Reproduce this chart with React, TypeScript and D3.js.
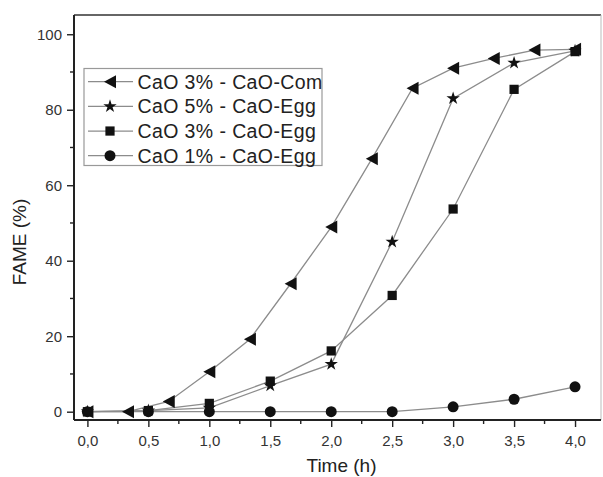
import React, { useEffect, useRef } from "react";
import * as d3 from "d3";

// data
const comTimes = [0, 0.333, 0.667, 1.0, 1.333, 1.667, 2.0, 2.333, 2.667, 3.0, 3.333, 3.667, 4.0];
const comFame = [0, 0, 2.7, 10.6, 19.2, 33.9, 48.9, 67, 85.7, 91, 93.6, 95.8, 96];
const eggTimes = [0, 0.5, 1.0, 1.5, 2.0, 2.5, 3.0, 3.5, 4.0];
const egg5Fame = [0, 0.3, 1.0, 6.9, 12.6, 45, 83, 92.4, 95.6];
const egg3Fame = [0, 0.3, 2.2, 8.1, 16.1, 30.8, 53.7, 85.4, 95.4];
const egg1Fame = [0, 0, 0, 0, 0, 0, 1.3, 3.3, 6.6];

const seriesNames = ["CaO 3% - CaO-Com", "CaO 5% - CaO-Egg", "CaO 3% - CaO-Egg", "CaO 1% - CaO-Egg"];
const seriesShapes = ["triangle", "star", "square", "circle"];

const xTicks = [0, 0.5, 1, 1.5, 2, 2.5, 3, 3.5, 4];
const xMinorTicks = [0.25, 0.75, 1.25, 1.75, 2.25, 2.75, 3.25, 3.75, 4.25];
const yTicks = [0, 20, 40, 60, 80, 100];
const yMinorTicks = [10, 30, 50, 70, 90];

const FONT = "'Liberation Sans', Arial, sans-serif";

const App = () => {
  const svgRef = useRef(null);

  useEffect(() => {
    const width = 603;
    const height = 477;
    const left = 74;
    const right = 601;
    const top = 15;
    const bottom = 420;

    const x = d3.scaleLinear().domain([-0.11, 4.213]).range([left, right]);
    const y = d3.scaleLinear().domain([-2.2, 105.1]).range([bottom, top]);

    const svg = d3.select(svgRef.current).attr("viewBox", [0, 0, width, height]);
    svg.selectAll("*").remove();

    svg.append("rect").attr("width", width).attr("height", height).attr("fill", "#fff");

    // frame: top and right
    svg.append("line").attr("x1", left).attr("x2", right).attr("y1", top).attr("y2", top)
      .attr("stroke", "#333").attr("stroke-width", 1.6);
    svg.append("line").attr("x1", right).attr("x2", right).attr("y1", top).attr("y2", bottom)
      .attr("stroke", "#bbb").attr("stroke-width", 1);

    const fmt = (d) => d3.format(".1f")(d).replace(".", ",");

    const gx = svg.append("g").attr("transform", `translate(0,${bottom})`);
    gx.call(d3.axisBottom(x).tickValues(xTicks).tickFormat(fmt).tickSize(7).tickPadding(8));
    gx.append("g").selectAll("line").data(xMinorTicks).join("line")
      .attr("x1", (d) => x(d)).attr("x2", (d) => x(d)).attr("y1", 0).attr("y2", 4)
      .attr("stroke", "#222").attr("stroke-width", 1.4);

    const gy = svg.append("g").attr("transform", `translate(${left},0)`);
    gy.call(d3.axisLeft(y).tickValues(yTicks).tickSize(7).tickPadding(5));
    gy.append("g").selectAll("line").data(yMinorTicks).join("line")
      .attr("x1", 0).attr("x2", -4).attr("y1", (d) => y(d)).attr("y2", (d) => y(d))
      .attr("stroke", "#222").attr("stroke-width", 1.4);

    [gx, gy].forEach((g) => {
      g.select(".domain").attr("stroke", "#222").attr("stroke-width", 2);
      g.selectAll(".tick line").attr("stroke", "#222").attr("stroke-width", 1.4);
      g.selectAll(".tick text").attr("font-family", FONT).attr("font-size", 15).attr("fill", "#333");
    });
    gx.select(".domain").attr("d", `M${left},0H${right}`);
    gy.select(".domain").attr("d", `M0,${bottom}V${top}`);

    svg.append("text").attr("x", (left + right) / 2 + 4).attr("y", 472)
      .attr("text-anchor", "middle").attr("font-family", FONT).attr("font-size", 19)
      .attr("fill", "#222").text("Time (h)");
    svg.append("text").attr("transform", "translate(26,242) rotate(-90)")
      .attr("text-anchor", "middle").attr("font-family", FONT).attr("font-size", 19)
      .attr("fill", "#222").text("FAME (%)");

    const series = [
      { t: comTimes, v: comFame },
      { t: eggTimes, v: egg5Fame },
      { t: eggTimes, v: egg3Fame },
      { t: eggTimes, v: egg1Fame },
    ];

    const symbolFor = (shape) => {
      if (shape === "triangle") return "M-6,0L6,-6.5L6,6.5Z";
      if (shape === "star") return d3.symbol(d3.symbolStar, 55)();
      if (shape === "square") return d3.symbol(d3.symbolSquare, 85)();
      return d3.symbol(d3.symbolCircle, 95)();
    };

    const line = d3.line().x((d) => x(d[0])).y((d) => y(d[1]));

    series.forEach((s) => {
      const pts = s.t.map((t, i) => [t, s.v[i]]);
      svg.append("path").attr("d", line(pts)).attr("fill", "none")
        .attr("stroke", "#8c8c8c").attr("stroke-width", 1.3);
    });

    // draw markers from bottom series up so the triangles sit on top
    [3, 2, 1, 0].forEach((k) => {
      const s = series[k];
      svg.append("g").selectAll("path").data(s.t.map((t, i) => [t, s.v[i]])).join("path")
        .attr("transform", (d) => `translate(${x(d[0])},${y(d[1])})`)
        .attr("d", symbolFor(seriesShapes[k])).attr("fill", "#111");
    });

    // legend
    const lg = svg.append("g");
    lg.append("rect").attr("x", 84).attr("y", 68.5).attr("width", 238).attr("height", 97)
      .attr("fill", "#fff").attr("stroke", "#999").attr("stroke-width", 1.2);
    const rowY = d3.scalePoint().domain(seriesNames).range([81.7, 155.7]);
    seriesNames.forEach((name, k) => {
      const yy = rowY(name);
      lg.append("line").attr("x1", 88).attr("x2", 133).attr("y1", yy).attr("y2", yy)
        .attr("stroke", "#8c8c8c").attr("stroke-width", 1.3);
      lg.append("path").attr("transform", `translate(110,${yy})`)
        .attr("d", symbolFor(seriesShapes[k])).attr("fill", "#111");
      lg.append("text").attr("x", 137.5).attr("y", yy + 6.8)
        .attr("font-family", FONT).attr("font-size", 19.5).attr("fill", "#222")
        .attr("letter-spacing", 0.4).text(name);
    });
  }, []);

  return <svg ref={svgRef} width={603} height={477} style={{ position: "absolute", left: 0, top: 0 }}></svg>;
};

export default App;
